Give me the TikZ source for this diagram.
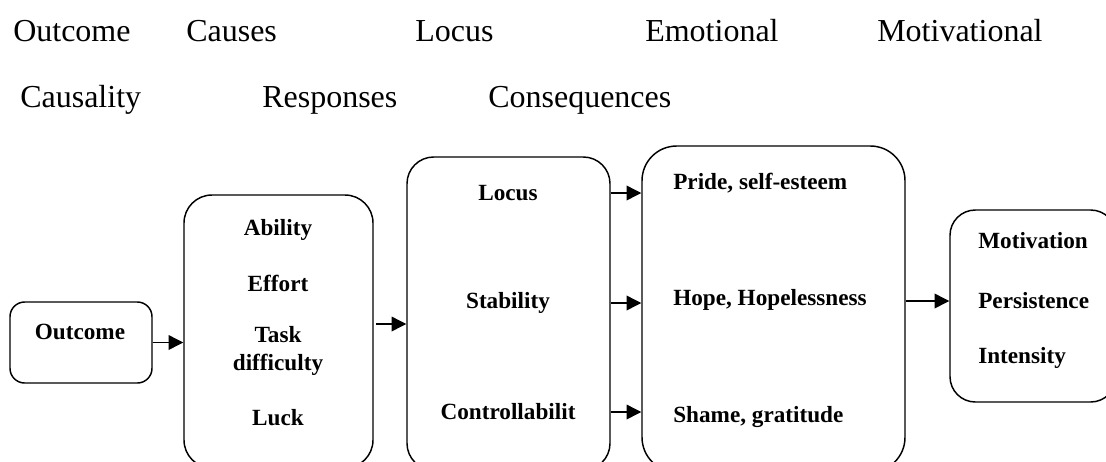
\documentclass[tikz,border=0pt]{standalone}
\usepackage{fontspec}
\setmainfont{Liberation Serif}
\usetikzlibrary{arrows.meta}

\tikzset{
  box/.style={draw, line width=1.1pt, rounded corners=#1, inner sep=0pt},
  head/.style={anchor=base west, inner sep=0pt, font=\fontsize{24}{28}\selectfont},
  item/.style={inner sep=0pt, align=center, font=\fontsize{17.4}{21}\selectfont\bfseries},
  arr/.style={-{Triangle[length=11pt,width=11pt]}, line width=1pt},
}

\begin{document}
\begin{tikzpicture}[x=0.75pt,y=0.75pt,yscale=-1,xscale=1]
\useasboundingbox (0,0) rectangle (1106,461);

% Text Node
\node[head] (hOutcome) at (13,41) {Outcome};
\node[head] (hCauses) at (186,41) {Causes};
\node[head] (hLocus) at (415,41) {Locus};
\node[head] (hEmotional) at (645,41) {Emotional};
\node[head] (hMotivational) at (877,41) {Motivational};
\node[head] (hCausality) at (20,107) {Causality};
\node[head] (hResponses) at (262,107) {Responses};
\node[head] (hConsequences) at (488,107) {Consequences};

%Shape: Rounded Rect
\node[box=11pt, minimum width=106.5pt, minimum height=60.75pt] (outbox) at (81,342.5) {};
\node[box=21pt, minimum width=141.75pt, minimum height=204.75pt] (causebox) at (278.5,331.5) {};
\node[box=20pt, minimum width=152.25pt, minimum height=234.75pt] (locbox) at (508.5,313.5) {};
\node[box=26pt, minimum width=197.25pt, minimum height=244.5pt] (emobox) at (773.5,309) {};
\node[box=19pt, minimum width=124.5pt, minimum height=144pt] (motbox) at (1033,306) {};

% Text Node
\node[item] (outcome) at (80,332) {Outcome};

\node[item] (ability) at (278,230) {Ability};
\node[item] (effort) at (278,283) {Effort};
\node[item] (task) at (278,351) {Task\\difficulty};
\node[item] (luck) at (278,418) {Luck};

\node[item] (locus) at (508,193) {Locus};
\node[item] (stability) at (508,303) {Stability};
\node[item] (control) at (508,412) {Controllabilit};

\node[item, anchor=west] (pride) at (673,183) {Pride, self-esteem};
\node[item, anchor=west] (hope) at (673,300) {Hope, Hopelessness};
\node[item, anchor=west] (shame) at (673,417) {Shame, gratitude};

\node[item, anchor=west] (motiv) at (978,241) {Motivation};
\node[item, anchor=west] (persist) at (978,301) {Persistence};
\node[item, anchor=west] (intens) at (978,358) {Intensity};

%Straight Lines
\coordinate (cl) at (390,324);
\draw[arr] (outbox.east) -- (causebox.west |- outbox.east);
\draw[arr, shorten <=2pt] (causebox.east |- cl) -- (locbox.west |- cl);
\draw[arr] (locbox.east |- locus) -- (emobox.west |- locus);
\draw[arr] (locbox.east |- stability) -- (emobox.west |- stability);
\draw[arr] (locbox.east |- control) -- (emobox.west |- control);
\draw[arr] (emobox.east |- persist) -- (motbox.west |- persist);

\end{tikzpicture}
\end{document}
